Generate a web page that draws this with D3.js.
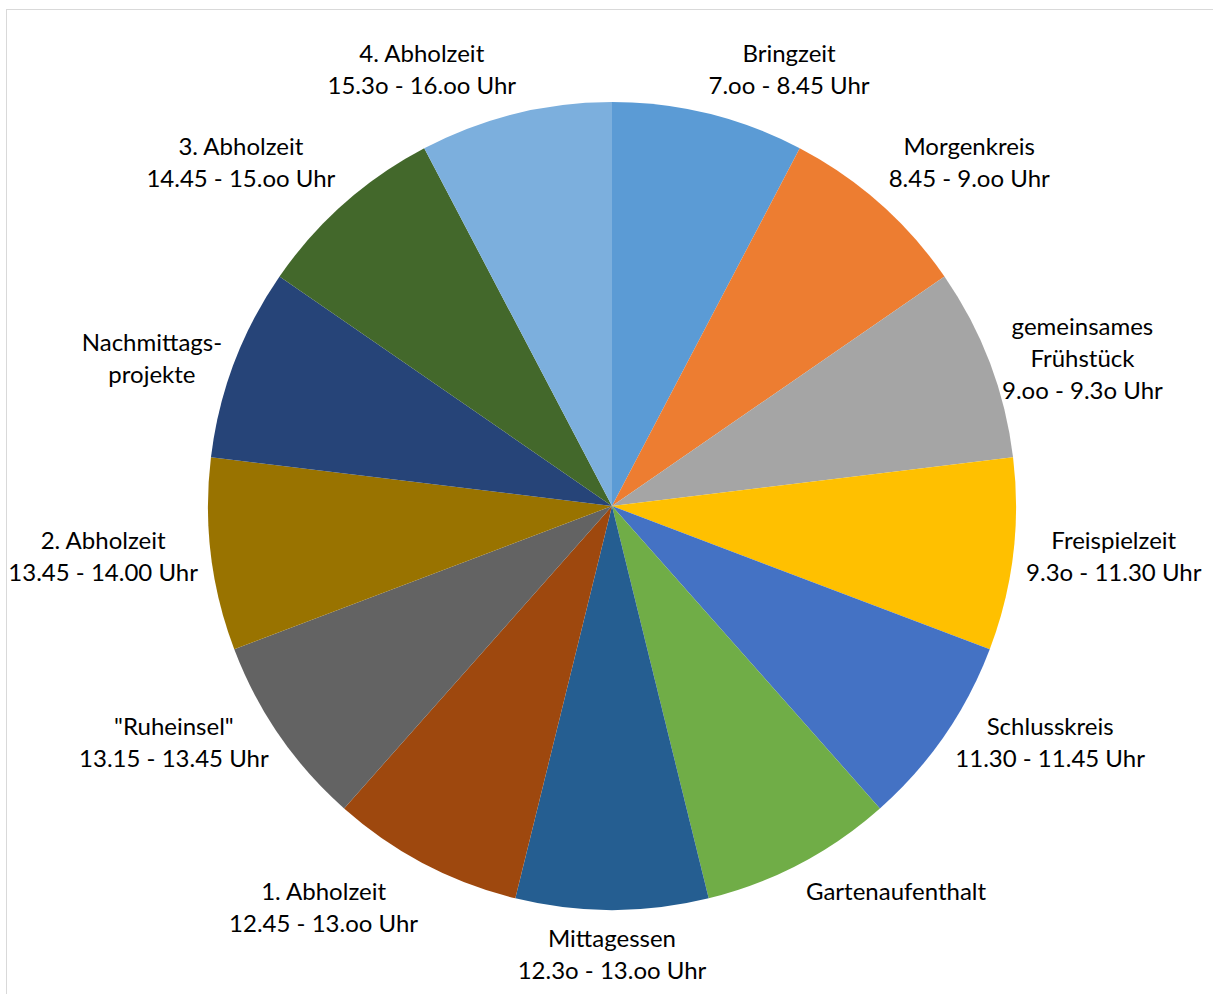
<!DOCTYPE html>
<html>
<head>
<meta charset="utf-8">
<script src="https://cdn.jsdelivr.net/npm/d3@7"></script>
<style>
    body { margin: 0; background: #fff; }
    svg text { font-family: Lato, "Open Sans", sans-serif; fill: #000; }
</style>
</head>
<body>
<div id="chart"></div>
<script>
// Tagesablauf — one slice per phase, all equal
const phases = [
    "Bringzeit", "Morgenkreis", "gemeinsames Frühstück", "Freispielzeit",
    "Schlusskreis", "Gartenaufenthalt", "Mittagessen", "1. Abholzeit",
    "Ruheinsel", "2. Abholzeit", "Nachmittagsprojekte", "3. Abholzeit", "4. Abholzeit"
];
const values = [1, 1, 1, 1, 1, 1, 1, 1, 1, 1, 1, 1, 1];
const labelLines = [
    ["Bringzeit", "7.oo - 8.45 Uhr"],
    ["Morgenkreis", "8.45 - 9.oo Uhr"],
    ["gemeinsames", "Frühstück", "9.oo - 9.3o Uhr"],
    ["Freispielzeit", "9.3o - 11.30 Uhr"],
    ["Schlusskreis", "11.30 - 11.45 Uhr"],
    ["Gartenaufenthalt"],
    ["Mittagessen", "12.3o - 13.oo Uhr"],
    ["1. Abholzeit", "12.45 - 13.oo Uhr"],
    ["\"Ruheinsel\"", "13.15 - 13.45 Uhr"],
    ["2. Abholzeit", "13.45 - 14.00 Uhr"],
    ["Nachmittags-", "projekte"],
    ["3. Abholzeit", "14.45 - 15.oo Uhr"],
    ["4. Abholzeit", "15.3o - 16.oo Uhr"]
];
const colors = [
    "#5B9BD5", "#ED7D31", "#A5A5A5", "#FFC000", "#4472C4", "#70AD47", "#255E91",
    "#9E480E", "#636363", "#997300", "#264478", "#43682B", "#7CAFDD"
];

const width = 1213, height = 994;
const cx = 612, cy = 506, radius = 404;
const gap = 13, fontSize = 24, lineH = 32;

const svg = d3.select("#chart")
    .append("svg")
    .attr("width", width)
    .attr("height", height);

// chart area border (only top/left visible in frame)
svg.append("rect")
    .attr("x", 6.5).attr("y", 9.5)
    .attr("width", width + 20).attr("height", height + 20)
    .attr("fill", "none")
    .attr("stroke", "#d9d9d9")
    .attr("stroke-width", 1);

const dataset = phases.map((p, i) => ({ key: p, value: values[i], lines: labelLines[i], color: colors[i] }));

const pie = d3.pie().sort(null).value(d => d.value);
const arc = d3.arc().innerRadius(0).outerRadius(radius);

const g = svg.append("g").attr("transform", `translate(${cx}, ${cy})`);

g.selectAll("path")
    .data(pie(dataset))
    .enter()
    .append("path")
    .attr("d", arc)
    .attr("fill", d => d.data.color);

// outside-end labels, roughly like Excel places them
const clamp = (v, lo, hi) => Math.max(lo, Math.min(hi, v));

const labels = g.selectAll(".label")
    .data(pie(dataset))
    .enter()
    .append("text")
    .attr("class", "label")
    .attr("text-anchor", "middle")
    .attr("font-size", fontSize);

labels.each(function (d) {
    const t = d3.select(this);
    const n = d.data.lines.length;
    d.data.lines.forEach((line, i) => {
        t.append("tspan")
            .attr("x", 0)
            .attr("y", (i - (n - 1) / 2) * lineH)
            .attr("dy", "0.35em")
            .text(line);
    });
    const bb = this.getBBox();
    const w = bb.width, h = n * lineH;
    const a = (d.startAngle + d.endAngle) / 2;
    const px = Math.sin(a) * (radius + gap);
    const py = -Math.cos(a) * (radius + gap);
    const fx = 0.5 - 0.5 * clamp(Math.sin(a) / 0.25, -1, 1);
    const tv = clamp((Math.abs(Math.cos(a)) - 0.6) / 0.15, 0, 1);
    const fy = 0.5 + 0.5 * Math.sign(Math.cos(a)) * tv;
    const x = px - w * fx + w / 2;
    const y = py - h * fy + h / 2;
    t.attr("transform", `translate(${x}, ${y})`);
});
</script>
</body>
</html>
